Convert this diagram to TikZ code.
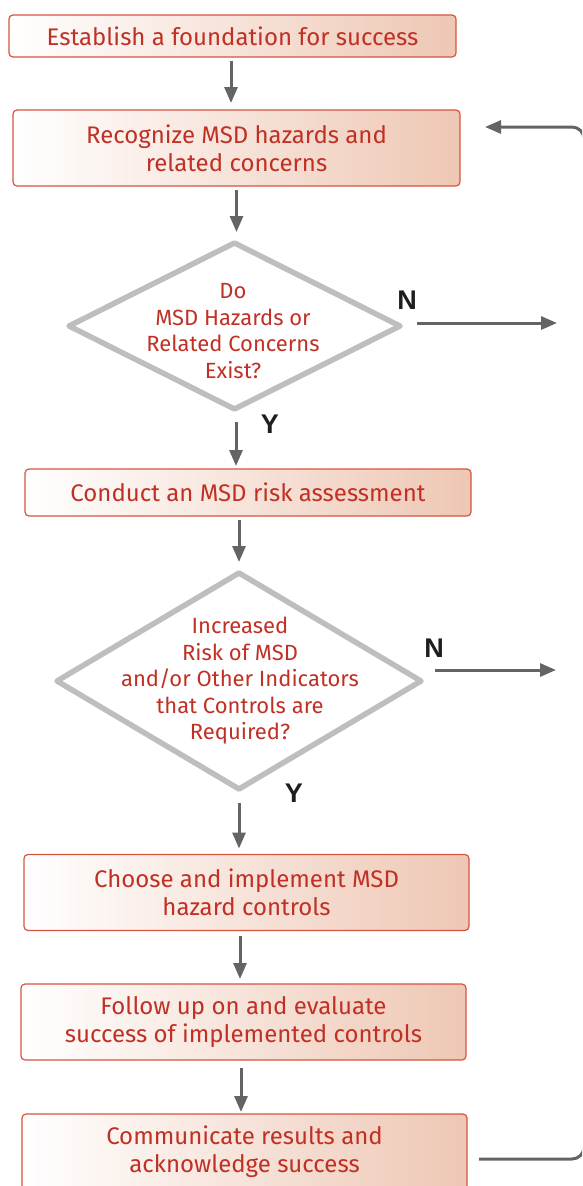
\documentclass[tikz,border=0pt]{standalone}
\usepackage{fontspec}
\setmainfont{Fira Sans}
\newfontfamily\ynfont{Liberation Sans}
\usetikzlibrary{shapes.geometric,arrows.meta,calc}
\definecolor{txtred}{RGB}{192,48,36}
\definecolor{bordred}{RGB}{212,84,64}
\definecolor{peach}{RGB}{238,199,180}
\definecolor{dgray}{RGB}{100,100,102}
\definecolor{lgray}{RGB}{190,190,192}
\tikzset{
  stepbox/.style={draw=bordred, line width=1.2pt, rounded corners=4pt,
    left color=white, right color=peach, text=txtred, align=center,
    inner sep=0pt, outer sep=0pt,
    font=\fontsize{24pt}{28pt}\selectfont},
  decision/.style={diamond, draw=lgray, line width=5.5pt, line join=round,
    inner sep=0pt, outer sep=0pt},
  qtext/.style={text=txtred, align=center, inner sep=0pt,
    font=\fontsize{22pt}{26.5pt}\selectfont},
  yn/.style={text={rgb,255:red,30;green,30;blue,30}, inner sep=0pt,
    font=\ynfont\bfseries\fontsize{27pt}{27pt}\selectfont},
  arr/.style={draw=dgray, line width=3pt,
    -{Triangle[length=16pt,width=13pt]}},
}
\begin{document}
\begin{tikzpicture}[x=1pt,y=-1pt]
\useasboundingbox (0,0) rectangle (582,1186);
\clip (0,0) rectangle (582,1186);

\node[stepbox, minimum width=447pt, minimum height=42pt] (b1) at (232.5,36) {Establish a foundation for success};
\node[stepbox, minimum width=447pt, minimum height=76pt] (b2) at (236.5,148) {Recognize MSD hazards and\\related concerns};
\node[decision, minimum width=331pt, minimum height=166pt] (d1) at (234.5,326) {};
\node[qtext] (q1) at (233,331) {Do\\MSD Hazards or\\Related Concerns\\Exist?};
\node[stepbox, minimum width=446pt, minimum height=47pt] (b3) at (248,492.5) {Conduct an MSD risk assessment};
\node[decision, minimum width=364pt, minimum height=216pt] (d2) at (239,681) {};
\node[qtext] (q2) at (240,681) {Increased\\Risk of MSD\\and/or Other Indicators\\that Controls are\\Required?};
\node[stepbox, minimum width=445pt, minimum height=76pt] (b4) at (246.5,892.5) {Choose and implement MSD\\hazard controls};
\node[stepbox, minimum width=445pt, minimum height=76pt] (b5) at (243.5,1022) {Follow up on and evaluate\\success of implemented controls};
\node[stepbox, minimum width=445pt, minimum height=76pt] (b6) at (244.5,1152) {Communicate results and\\acknowledge success};

\node[yn] (n1) at (407,300) {N};
\node[yn] (y1) at (270,424) {Y};
\node[yn] (n2) at (434,648) {N};
\node[yn] (y2) at (294,793) {Y};

\coordinate (n1e) at (557,323);
\coordinate (n2e) at (556,670);

\draw[arr, shorten <=4pt, shorten >=7pt] ([xshift=-1.5pt]b1.south) -- ([xshift=-1.5pt]b1.south |- b2.north);
\draw[arr, shorten <=4pt, shorten >=11pt] (b2.south) -- (b2.south |- d1.north);
\draw[arr, shorten <=13pt, shorten >=3pt] ([xshift=1.5pt]d1.south) -- ([xshift=1.5pt]d1.south |- b3.north);
\draw[arr, shorten <=4pt, shorten >=11pt] (d2.north |- b3.south) -- (d2.north);
\draw[arr, shorten <=14pt, shorten >=6pt] (d2.south) -- (d2.south |- b4.north);
\draw[arr, shorten <=5pt, shorten >=5pt] ([xshift=1pt]d2.south |- b4.south) -- ([xshift=1pt]d2.south |- b5.north);
\draw[arr, shorten <=8pt, shorten >=2pt] ([xshift=2pt]d2.south |- b5.south) -- ([xshift=2pt]d2.south |- b6.north);

\draw[arr, shorten <=17pt] (d1.east |- n1e) -- (n1e);
\draw[arr, shorten <=14pt] (d2.east |- n2e) -- (n2e);

\draw[arr, rounded corners=12pt] ([xshift=12pt,yshift=-7pt]b6.east) -- (584,1159) -- (584,127) -- ([xshift=25pt,yshift=21pt]b2.east);
\end{tikzpicture}
\end{document}
